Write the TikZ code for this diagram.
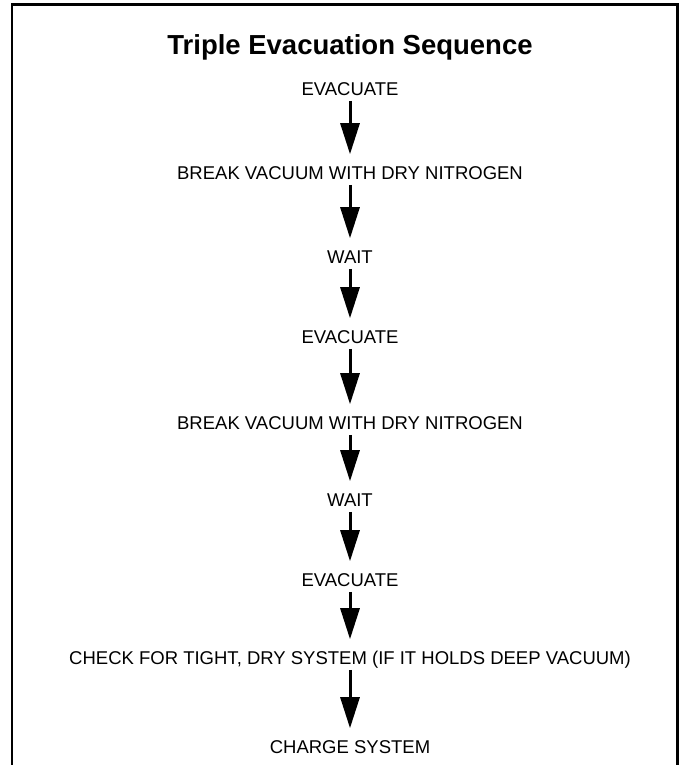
\documentclass[tikz,border=0pt]{standalone}
\usepackage{fontspec}
\setmainfont{Liberation Sans}
\usetikzlibrary{arrows.meta}

\begin{document}
\begin{tikzpicture}[x=1pt, y=-1pt,
    steptext/.style={inner sep=0pt, text height=13.2pt, text depth=0pt, font=\fontsize{18.5}{21}\selectfont},
    flow/.style={-{Triangle[length=31pt,width=19pt]}, line width=3pt, shorten <=5pt, shorten >=12pt}]
    \useasboundingbox (0,0) rectangle (682,765);

    % Frame, open at the bottom
    \draw[line width=2.5pt] (12,765) -- (12,4.5) -- (677.5,4.5) -- (677.5,765);

    % Title
    \node[inner sep=0pt, text height=19.7pt, text depth=0pt, font=\bfseries\fontsize{27.5}{31}\selectfont] (title) at (350,45) {Triple Evacuation Sequence};

    % Steps
    \node[steptext] (evac1)  at (350,89)  {EVACUATE};
    \node[steptext] (break1) at (350,173) {BREAK VACUUM WITH DRY NITROGEN};
    \node[steptext] (wait1)  at (350,257) {WAIT};
    \node[steptext] (evac2)  at (350,337) {EVACUATE};
    \node[steptext] (break2) at (350,423) {BREAK VACUUM WITH DRY NITROGEN};
    \node[steptext] (wait2)  at (350,500) {WAIT};
    \node[steptext] (evac3)  at (350,580) {EVACUATE};
    \node[steptext] (check)  at (350,658) {CHECK FOR TIGHT, DRY SYSTEM (IF IT HOLDS DEEP VACUUM)};
    \node[steptext] (charge) at (350,747) {CHARGE SYSTEM};

    % Arrows
    \draw[flow] (evac1.south)  -- (break1.north);
    \draw[flow] (break1.south) -- (wait1.north);
    \draw[flow] (wait1.south)  -- (evac2.north);
    \draw[flow] (evac2.south)  -- (break2.north);
    \draw[flow] (break2.south) -- (wait2.north);
    \draw[flow] (wait2.south)  -- (evac3.north);
    \draw[flow] (evac3.south)  -- (check.north);
    \draw[flow] (check.south)  -- (charge.north);
\end{tikzpicture}
\end{document}
